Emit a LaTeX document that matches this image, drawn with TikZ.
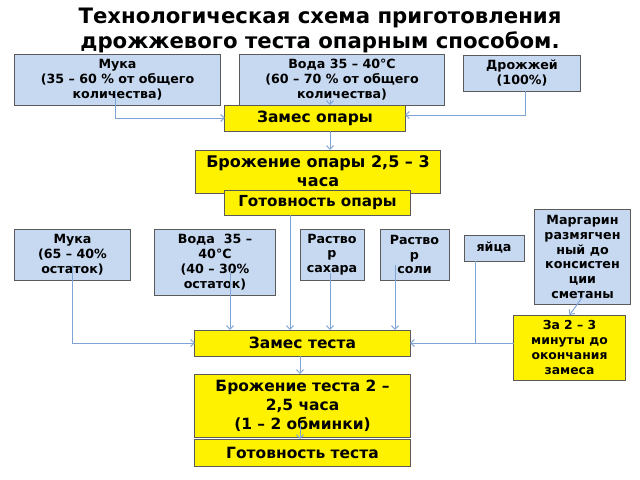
\documentclass[tikz,border=0pt]{standalone}
\usepackage{fontspec}
\setmainfont{DejaVu Sans}
\usetikzlibrary{arrows.meta}

\definecolor{boxblue}{HTML}{C6D9F1}
\definecolor{boxline}{HTML}{5A5A5A}
\definecolor{linkblue}{HTML}{7EA4D6}

\tikzset{
  blu/.style={draw=boxline, fill=boxblue, line width=0.7pt, inner sep=0pt, outer sep=0pt,
    align=center, font=\fontsize{9}{10.5}\selectfont\bfseries},
  yel/.style={draw=boxline, fill=yellow, line width=0.7pt, inner sep=0pt, outer sep=0pt,
    align=center, font=\fontsize{11}{13.4}\selectfont\bfseries},
  yelsmall/.style={yel, font=\fontsize{8.8}{10.6}\selectfont\bfseries},
  ln/.style={draw=linkblue, line width=0.7pt},
  arr/.style={ln, -{Straight Barb[length=2.6pt,width=5pt]}}
}

\begin{document}
\begin{tikzpicture}[x=0.025cm, y=-0.025cm]
    \useasboundingbox (0,0) rectangle (640,480);

    % title
    \node[align=center, font=\fontsize{15.1}{17.8}\selectfont\bfseries] (title) at (320,30)
      {Технологическая схема приготовления\\дрожжевого теста опарным способом.};

    % first stage: sponge
    \node[blu, minimum width=5.125cm, minimum height=1.275cm] (muka1) at (117.5,79.5)
      {Мука\\(35 – 60 \% от общего\\количества)};
    \node[blu, minimum width=5.1cm, minimum height=1.275cm] (voda1) at (342,79.5)
      {Вода 35 – 40°С\\(60 – 70 \% от общего\\количества)};
    \node[blu, minimum width=2.9cm, minimum height=0.9cm] (drozh) at (522,73)
      {Дрожжей\\(100\%)};
    \node[yel, minimum width=4.5cm, minimum height=0.65cm] (zamesop) at (315,118) {Замес опары};
    \node[yel, minimum width=6.1cm, minimum height=1.075cm, font=\fontsize{11.4}{13.6}\selectfont\bfseries]
      (brozhop) at (318,171.5) {Брожение опары 2,5 – 3\\часа};
    \node[yel, minimum width=4.625cm, minimum height=0.625cm, font=\fontsize{10.8}{13}\selectfont\bfseries]
      (gotop) at (317.5,202.5) {Готовность опары};

    % second stage: dough
    \node[blu, minimum width=2.875cm, minimum height=1.275cm] (muka2) at (72.5,254.5)
      {Мука\\(65 – 40\%\\остаток)};
    \node[blu, minimum width=3cm, minimum height=1.65cm] (voda2) at (215,262)
      {Вода~~35 –\\40°С\\(40 – 30\%\\остаток)};
    \node[blu, minimum width=1.6cm, minimum height=1.275cm] (sahar) at (332,254.5)
      {Раство\\р\\сахара};
    \node[blu, minimum width=1.725cm, minimum height=1.275cm] (sol) at (414.5,254.5)
      {Раство\\р\\соли};
    \node[blu, minimum width=1.5cm, minimum height=0.65cm] (yaica) at (494,248) {яйца};
    \node[blu, minimum width=2.375cm, minimum height=2.35cm] (margarin) at (582.5,257)
      {Маргарин\\размягчен\\ный до\\консистен\\ции\\сметаны};
    \node[yelsmall, minimum width=2.775cm, minimum height=1.625cm] (za) at (569.5,347.5)
      {За 2 – 3\\минуты до\\окончания\\замеса};
    \node[yel, minimum width=5.375cm, minimum height=0.65cm] (zamest) at (302.5,343) {Замес теста};
    \node[yel, minimum width=5.375cm, minimum height=1.575cm] (brozht) at (302.5,405.5)
      {Брожение теста 2 –\\2,5 часа\\(1 – 2 обминки)};
    \node[yel, minimum width=5.375cm, minimum height=0.675cm] (gotovt) at (302.5,452.5) {Готовность теста};

    % connectors of the sponge
    \draw[arr] ([xshift=-0.05cm,yshift=0.375cm]muka1.south) |- (zamesop.west);
    \draw[arr] ([xshift=-0.3cm,yshift=0.125cm]voda1.south) coordinate (v1) -- (v1 |- zamesop.north);
    \draw[arr] ([xshift=0.075cm]drozh.south) |- ([yshift=0.075cm]zamesop.east);
    \draw[arr] ([xshift=0.375cm]zamesop.south) coordinate (z1) -- (z1 |- brozhop.north);

    % connectors of the dough
    \draw[arr] ([yshift=0.375cm]muka2.south) |- (zamest.west);
    \draw[arr] ([xshift=0.375cm,yshift=0.625cm]voda2.south) coordinate (v2) -- (v2 |- zamest.north);
    \draw[arr] ([xshift=-0.6875cm]gotop.south) coordinate (g1) -- (g1 |- zamest.north);
    \draw[arr] ([xshift=-0.05cm,yshift=0.175cm]sahar.south) coordinate (s1) -- (s1 |- zamest.north);
    \draw[arr] ([xshift=-0.4875cm,yshift=0.375cm]sol.south) coordinate (s2) -- (s2 |- zamest.north);
    \draw[ln] ([xshift=-0.475cm]yaica.south) coordinate (y1) -- (y1 |- zamest.east);
    \draw[arr] ([yshift=0.175cm]margarin.south) -- (za.north);
    \draw[arr] (za.west |- zamest.east) -- (zamest.east);
    \draw[arr] ([xshift=-0.0625cm]zamest.south) coordinate (z2) -- (z2 |- brozht.north);
    \draw[arr] ([xshift=-0.0625cm,yshift=0.35cm]brozht.south) coordinate (b1) -- (b1 |- gotovt.north);
  \end{tikzpicture}
\end{document}
